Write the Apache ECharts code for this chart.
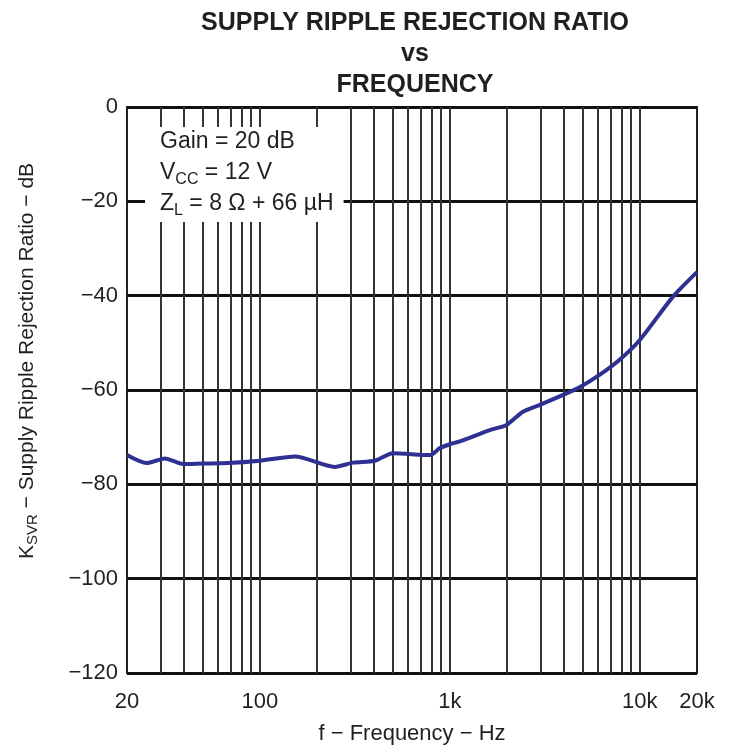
<!DOCTYPE html>
<html>
<head>
<meta charset="utf-8">
<script src="https://cdn.jsdelivr.net/npm/echarts@6/dist/echarts.min.js"></script>
<style>
  html, body { margin: 0; padding: 0; background: #fff; }
  #chart { width: 745px; height: 747px; }
</style>
</head>
<body>
<div id="chart"></div>
<script>
// Supply ripple rejection ratio (dB) measured against frequency (Hz)
const freqHz = [20, 25.4, 31.7, 39.4, 50, 68, 100, 153, 248, 310, 404, 502, 786, 888, 1000, 1128,
  1624, 1988, 2425, 2960, 3920, 4820, 6140, 7830, 10000, 14960, 20000];
const ksvrDb = [-73.8, -75.5, -74.5, -75.7, -75.6, -75.5, -75.0, -74.1, -76.3, -75.4, -75.0, -73.4, -73.8, -72.3, -71.5, -70.9,
  -68.5, -67.4, -64.6, -63.2, -61.1, -59.4, -56.8, -53.6, -49.4, -40.2, -35.0];

// Frequency grid lines (1-2-…-9 per decade) and labelled ticks
const freqGrid = [30, 40, 50, 60, 70, 80, 90, 100, 200, 300, 400, 500, 600, 700, 800, 900,
  1000, 2000, 3000, 4000, 5000, 6000, 7000, 8000, 9000, 10000];
const freqTickValues = [20, 100, 1000, 10000, 20000];
const freqTickText = ['20', '100', '1k', '10k', '20k'];

const dbMin = -120, dbMax = 0, dbStep = 20;

const FONT = '"Liberation Sans", Arial, Helvetica, sans-serif';
const INK = '#231f20';

const chart = echarts.init(document.getElementById('chart'), null, { renderer: 'canvas' });

function freqLabel(v) {
  const r = Math.round(v);
  const i = freqTickValues.indexOf(r);
  return i >= 0 ? freqTickText[i] : '';
}

chart.setOption({
  animation: false,
  backgroundColor: '#fff',
  textStyle: { fontFamily: FONT, color: INK },
  title: [
    {
      text: 'SUPPLY RIPPLE REJECTION RATIO\nvs\nFREQUENCY',
      left: 410,
      top: 3,
      textAlign: 'center',
      textStyle: { fontFamily: FONT, fontSize: 25, fontWeight: 'bold', color: INK, lineHeight: 31 }
    },
    {
      text: '{a|Gain = 20 dB}\n{a|V}{s|CC}{a| = 12 V}\n{a|Z}{s|L}{a| = 8 Ω + 66 µH}',
      left: 145,
      top: 123,
      padding: [3, 10, 3, 15],
      backgroundColor: '#fff',
      textStyle: {
        fontFamily: FONT,
        fontWeight: 'normal',
        rich: {
          a: { fontFamily: FONT, fontSize: 23, fontWeight: 'normal', color: INK, lineHeight: 31 },
          s: { fontFamily: FONT, fontSize: 16, fontWeight: 'normal', color: INK, lineHeight: 18, verticalAlign: 'bottom' }
        }
      }
    }
  ],
  grid: {
    left: 127, right: 48, top: 107, bottom: 74,
    outerBoundsMode: 'none',
    show: true, borderColor: '#222', borderWidth: 2, backgroundColor: 'transparent'
  },
  xAxis: {
    type: 'log',
    logBase: 10,
    min: 20,
    max: 20000,
    name: 'f − Frequency − Hz',
    nameLocation: 'middle',
    nameGap: 50,
    nameTextStyle: { fontFamily: FONT, fontSize: 22, color: INK },
    axisLine: { show: false },
    axisTick: { show: false },
    splitLine: { show: false },
    minorTick: { show: false },
    axisLabel: {
      fontFamily: FONT, fontSize: 22, color: INK, margin: 18,
      showMinLabel: true, showMaxLabel: true,
      formatter: freqLabel
    }
  },
  yAxis: {
    type: 'value',
    min: dbMin,
    max: dbMax,
    interval: dbStep,
    name: '{a|K}{s|SVR}{a| − Supply Ripple Rejection Ratio − dB}',
    nameLocation: 'middle',
    nameGap: 87,
    nameTextStyle: {
      fontFamily: FONT,
      padding: [0, 0, 0, 58],
      rich: {
        a: { fontFamily: FONT, fontSize: 21, color: INK, lineHeight: 26 },
        s: { fontFamily: FONT, fontSize: 15, color: INK, lineHeight: 18, verticalAlign: 'bottom' }
      }
    },
    axisLine: { show: false },
    axisTick: { show: false },
    splitLine: { show: true, lineStyle: { color: '#111', width: 3 } },
    axisLabel: {
      fontFamily: FONT, fontSize: 22, color: INK, margin: 9,
      formatter: v => (v < 0 ? '−' + Math.abs(v) : String(v))
    }
  },
  series: [
    {
      type: 'line',
      data: freqHz.map((f, i) => [f, ksvrDb[i]]),
      showSymbol: false,
      smooth: 0.25,
      lineStyle: { color: '#2e3192', width: 4 },
      z: 5,
      markLine: {
        silent: true,
        symbol: 'none',
        animation: false,
        label: { show: false },
        lineStyle: { color: '#333', width: 2, type: 'solid' },
        data: freqGrid.map(f => ({ xAxis: f }))
      }
    }
  ]
});
</script>
</body>
</html>
